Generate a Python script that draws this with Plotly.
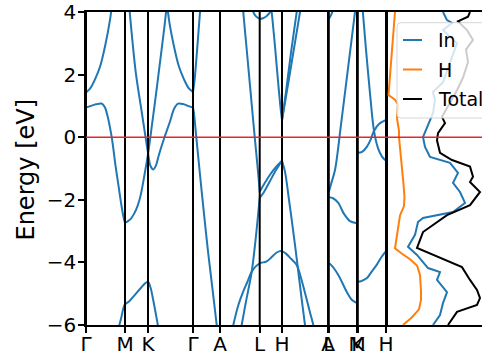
import plotly.graph_objects as go

# ---------------- data ----------------
hs_labels = ["Γ", "M", "K", "Γ", "A", "L", "H", "A", "L", "M", "K", "H"]
hs_k = [0, 39, 62, 107, 134, 173.7, 196, 242.0, 242.8, 271.0, 271.8, 300]

energy_ticks = [-6, -4, -2, 0, 2, 4]
energy_ticktext = ["−6", "−4", "−2", "0", "2", "4"]
e_fermi = 0.0

# band pieces (k, E in eV)
gm_upper = [(0, 1.43), (4, 1.55), (9, 1.85), (14, 2.25), (19, 2.9), (24, 3.75), (27, 4.5)]
gm_mid = [(0, 0.95), (5, 1.0), (10, 1.05), (16, 1.07), (19, 0.95), (21.3, 0.71), (25.7, 0.0),
          (29.7, -0.95), (32.5, -1.55), (35.3, -2.15), (37.5, -2.55), (39, -2.74)]
gm_low = [(32.5, -6.1), (35, -5.8), (37.5, -5.45), (39, -5.33)]
mg_x = [(41, 5.0), (43.7, 4.0), (49.7, 2.09), (56, 0.75), (62, -0.5), (64.5, -0.92), (67.3, -1.03),
        (70, -0.9), (73, -0.55), (78.5, 0.0), (84, 0.5), (88, 0.9), (92, 1.07), (97, 1.06),
        (102, 1.0), (107, 0.95)]
mg_y = [(39, -2.74), (42, -2.68), (45, -2.6), (48, -2.45), (51.5, -2.2), (54.7, -1.85), (58.5, -1.2),
        (62.2, -0.5), (66, 0.4), (70.5, 1.5), (75, 2.65), (78.5, 3.55), (81, 4.3)]
kg_z = [(81, 4.3), (83, 3.75), (88, 2.9), (93, 2.25), (98, 1.85), (103, 1.55), (107, 1.45)]
mk_low = [(39, -5.33), (43, -5.25), (48, -5.07), (54, -4.85), (59, -4.67), (62, -4.62), (64.5, -4.8),
          (67.5, -5.25), (71, -5.85), (73, -6.2)]
ga_up = [(107, 1.45), (108.5, 1.8), (111, 2.75), (114, 4.0), (115, 4.4)]
ga_down = [(107, 0.95), (108, 0.75), (110, 0.1), (114, -1.2), (118, -2.45), (122, -3.65),
           (126.5, -4.85), (130.7, -6.0), (131.5, -6.25)]
al_d1 = [(156.5, 4.4), (157.3, 4.0), (160, 3.05), (164, 1.65), (168, 0.25), (172.3, -1.2), (173.7, -1.74)]
al_d2 = [(154.5, -6.25), (155.7, -6.0), (160, -5.25), (165.7, -4.3), (169.5, -3.3), (173.7, -1.94)]
al_d3 = [(146, -6.2), (147.3, -6.0), (152, -5.4), (157, -4.95), (161, -4.65), (165.7, -4.3),
         (170, -4.12), (173.7, -4.03)]
al_top = [(166, 4.15), (167.3, 4.0), (170, 3.86), (173.7, 3.78)]
lh_top = [(173.7, 3.78), (177, 3.8), (181, 3.88), (185.5, 4.05)]
lh_h1 = [(185.5, 4.05), (186.5, 3.75), (189, 2.9), (192, 1.8), (194.5, 0.95), (196, 0.55)]
lh_1 = [(173.7, -1.74), (178, -1.5), (184, -1.2), (190, -0.95), (196, -0.75)]
lh_2 = [(173.7, -1.94), (178, -1.75), (184, -1.4), (190, -1.05), (196, -0.75)]
lh_3 = [(173.7, -4.03), (177, -4.0), (180.7, -3.97), (185, -3.85), (190, -3.7), (194, -3.64), (196, -3.64)]
ha_1 = [(196, 0.55), (200, 1.45), (205, 2.7), (210.7, 4.0), (212, 4.35)]
ha_2 = [(196, 0.55), (200, 1.3), (206, 2.45), (214, 4.0), (215, 4.2)]
ha_3 = [(196, -0.75), (199, -1.1), (203, -2.0), (207, -2.95), (211, -3.95), (215, -5.0),
        (219, -6.0), (220, -6.25)]
ha_4 = [(196, -3.64), (200, -3.72), (205, -3.88), (210.7, -4.08), (215, -4.5), (220, -5.1),
        (224, -5.6), (227.3, -6.0), (228.5, -6.2)]
lm_1 = [(242.8, -1.92), (247, -1.95), (252.3, -2.1), (258, -2.45), (264, -2.68), (271, -2.75)]
lm_2 = [(242.8, -1.75), (245, -1.5), (249, -1.05), (255, 0.4), (262, 2.2), (269, 4.0), (270, 4.3)]
lm_3 = [(242.8, -4.03), (245, -4.08), (252.3, -4.4), (260.7, -4.94), (266, -5.2), (271, -5.3)]
lm_top = [(242.8, 3.78), (245, 3.9), (247.5, 4.1)]
kh_1 = [(271.8, -0.5), (276, -0.47), (281, -0.3), (285, -0.05), (288, 0.2), (293, 0.42), (300, 0.55)]
kh_2 = [(276, 4.3), (277, 3.95), (280, 2.8), (284, 1.4), (288, 0.2), (292, -0.35), (296, -0.62), (300, -0.75)]
kh_3 = [(271.8, -4.62), (275, -4.6), (280.7, -4.51), (285.5, -4.3), (290.7, -4.08), (295, -3.85), (300, -3.64)]

band_pieces = [gm_upper, gm_mid, gm_low, mg_x, mg_y, kg_z, mk_low, ga_up, ga_down,
               al_d1, al_d2, al_d3, al_top, lh_top, lh_h1, lh_1, lh_2, lh_3,
               ha_1, ha_2, ha_3, ha_4, lm_1, lm_2, lm_3, lm_top, kh_1, kh_2, kh_3]

# DOS (energy, states)
dos_in_e = [4.0, 3.74, 3.65, 3.42, 3.0, 2.4, 1.76, 1.44, 1.19, 0.77, 0.33, 0.0, -0.31, -0.63, -0.82,
            -1.14, -1.46, -1.75, -2.10, -2.39, -2.58, -2.71, -3.12, -3.5, -3.76, -3.99, -4.18, -4.31,
            -4.56, -4.95, -5.30, -5.68, -6.0]
dos_in_v = [5.7, 6.1, 6.6, 5.7, 7.1, 6.4, 5.7, 4.7, 4.9, 4.7, 4.1, 3.7, 3.9, 4.4, 6.4,
            7.2, 6.7, 7.4, 7.9, 6.7, 3.7, 3.2, 2.9, 2.2, 3.1, 3.7, 4.2, 5.4,
            5.1, 6.1, 5.7, 5.4, 4.7]
dos_h_e = [4.0, 3.6, 3.0, 2.5, 2.0, 1.6, 1.35, 1.2, 1.05, 0.6, 0.2, 0.0, -0.3, -0.7, -1.1, -1.5, -1.9,
           -2.2, -2.5, -2.9, -3.3, -3.55, -3.7, -3.9, -4.1, -4.4, -4.9, -5.2, -5.5, -5.75, -6.0]
dos_h_v = [0.9, 0.8, 0.6, 0.5, 0.35, 0.3, 0.25, 0.9, 1.2, 1.1, 1.3, 1.3, 1.4, 1.5, 1.6, 1.75, 1.85,
           1.8, 1.4, 1.2, 1.0, 0.9, 1.5, 2.4, 3.1, 3.4, 3.5, 3.5, 3.3, 2.6, 1.7]
dos_tot_e = [4.0, 3.85, 3.7, 3.42, 3.11, 2.8, 2.4, 1.9, 1.5, 1.2, 0.65, 0.45, 0.13, -0.1, -0.5, -0.73,
             -0.94, -1.26, -1.43, -1.75, -2.17, -2.49, -3.03, -3.54, -3.86, -4.15, -4.56, -4.88,
             -5.14, -5.36, -5.58, -6.0]
dos_tot_v = [8.4, 8.2, 7.2, 8.1, 8.7, 8.0, 8.2, 7.7, 7.1, 6.6, 5.6, 5.9, 5.2, 5.1, 5.4, 6.6,
             8.4, 8.7, 8.4, 9.4, 8.4, 6.1, 3.7, 3.1, 5.4, 7.6, 8.4, 9.1,
             9.4, 9.1, 7.1, 6.2]

legend_names = ["In", "H", "Total"]
legend_colors = ["#1f77b4", "#ff7f0e", "black"]

# ---------------- layout helpers ----------------
W, H = 482, 357
ML, MR, MT, MB = 86, 0, 12, 32
PW, PH = W - ML - MR, H - MT - MB
band_right_px = 386
split = (band_right_px - ML) / PW
FONT = "DejaVu Sans"


def px_x(px):
    return (px - ML) / PW


def px_y(py):
    return (H - MB - py) / PH


fig = go.Figure()

for piece in band_pieces:
    fig.add_trace(go.Scatter(
        x=[p[0] for p in piece], y=[p[1] for p in piece], mode="lines",
        line=dict(color="#1f77b4", width=2, shape="spline", smoothing=0.9),
        xaxis="x", yaxis="y", showlegend=False, hoverinfo="skip"))

for e, v, c in [(dos_in_e, dos_in_v, legend_colors[0]),
                (dos_h_e, dos_h_v, legend_colors[1]),
                (dos_tot_e, dos_tot_v, legend_colors[2])]:
    fig.add_trace(go.Scatter(x=v, y=e, mode="lines", line=dict(color=c, width=2),
                             xaxis="x2", yaxis="y2", showlegend=False, hoverinfo="skip"))

shapes = []
for k in hs_k:
    shapes.append(dict(type="line", xref="x", yref="paper", x0=k, x1=k, y0=0, y1=1,
                       line=dict(color="black", width=2), layer="above"))
shapes.append(dict(type="line", xref="paper", yref="y", x0=0, x1=1, y0=e_fermi, y1=e_fermi,
                   line=dict(color="#e8262a", width=1.5), layer="above"))

# legend box (rounded left corners)
lx0, lx1, ly0, ly1, r = 397, 520, 22.7, 118, 4
rx = r / PW
ry = r / PH
x0p, x1p = px_x(lx0), px_x(lx1)
ytp, ybp = px_y(ly0), px_y(ly1)
path = (f"M {x0p + rx},{ytp} L {x1p},{ytp} L {x1p},{ybp} L {x0p + rx},{ybp} "
        f"Q {x0p},{ybp} {x0p},{ybp + ry} L {x0p},{ytp - ry} Q {x0p},{ytp} {x0p + rx},{ytp} Z")
shapes.append(dict(type="path", xref="paper", yref="paper", path=path,
                   fillcolor="rgba(255,255,255,0.8)", line=dict(color="rgba(204,204,204,0.8)", width=1),
                   layer="above"))

annotations = []
rows_y = [40, 69.5, 99]
for name, col, ry_px in zip(legend_names, legend_colors, rows_y):
    shapes.append(dict(type="line", xref="paper", yref="paper", x0=px_x(403), x1=px_x(422),
                       y0=px_y(ry_px), y1=px_y(ry_px), line=dict(color=col, width=2), layer="above"))
    annotations.append(dict(text=name, xref="paper", yref="paper", x=px_x(436), y=px_y(ry_px),
                            xanchor="left", yanchor="middle", showarrow=False,
                            font=dict(family=FONT, size=19, color="black")))

annotations.append(dict(text="Energy [eV]", xref="paper", yref="paper", x=px_x(26), y=px_y(169.5),
                        xanchor="center", yanchor="middle", textangle=-90, showarrow=False,
                        font=dict(family=FONT, size=24, color="black")))

tick_pos = [k + 0.0001 * i for i, k in enumerate(hs_k)]

fig.update_layout(
    width=W, height=H, margin=dict(l=ML, r=MR, t=MT, b=MB, autoexpand=False),
    paper_bgcolor="white", plot_bgcolor="white", showlegend=False,
    font=dict(family=FONT, color="black"),
    xaxis=dict(domain=[0, split], range=[hs_k[0], hs_k[-1]], tickmode="array", tickvals=tick_pos,
               ticktext=hs_labels, ticks="outside", ticklen=6, tickwidth=1.5, tickcolor="black",
               tickfont=dict(family=FONT, size=20), ticklabelstandoff=-6, tickangle=0,
               showline=True, linecolor="black", linewidth=1.6,
               mirror=True, showgrid=False, zeroline=False, anchor="y"),
    yaxis=dict(domain=[0, 1], range=[-6, 4], tickmode="array", tickvals=energy_ticks,
               ticktext=energy_ticktext, ticks="outside", ticklen=6, tickwidth=1.5, tickcolor="black",
               tickfont=dict(family=FONT, size=20), ticklabelstandoff=-2,
               showline=True, linecolor="black", linewidth=1.6,
               mirror=True, showgrid=False, zeroline=False, anchor="x"),
    xaxis2=dict(domain=[split, 1], range=[0, 9.6], showticklabels=False, ticks="", showline=True,
                linecolor="black", linewidth=1.6, mirror=True, showgrid=False, zeroline=False,
                anchor="y2"),
    yaxis2=dict(domain=[0, 1], matches="y", range=[-6, 4], showticklabels=False, ticks="",
                showline=False, showgrid=False, zeroline=False, anchor="x2"),
    shapes=shapes, annotations=annotations,
)

fig.write_html("out.html", config={"displayModeBar": False},
               post_script="document.body.style.margin='0';document.body.style.padding='0';"
                           "document.documentElement.style.overflow='hidden';")
